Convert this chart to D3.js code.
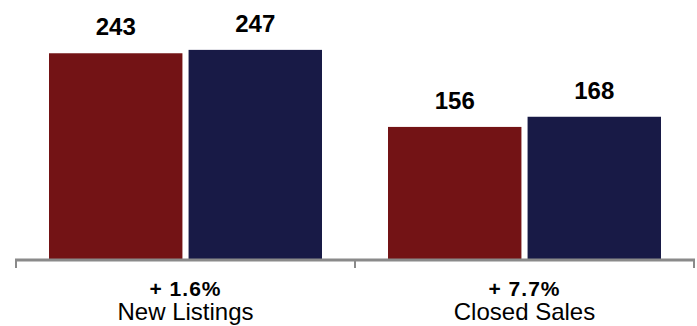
<!DOCTYPE html>
<html>
<head>
<meta charset="utf-8">
<script src="https://cdn.jsdelivr.net/npm/d3@7"></script>
<style>
  body { margin: 0; background: #fff; }
  svg { display: block; font-family: "Liberation Sans", Arial, Helvetica, sans-serif; }
</style>
</head>
<body>
<svg id="chart" width="697" height="326"></svg>
<script>
// data
var categories = ["New Listings", "Closed Sales"];
var changes = ["+ 1.6%", "+ 7.7%"];
var priorYear = [243, 156];
var currentYear = [247, 168];
var seriesColors = ["#731315", "#181a46"];

var svg = d3.select("#chart");

var axisY = 260;

var x0 = d3.scaleBand()
  .domain(categories)
  .range([16, 694])
  .padding(0);

var x1 = d3.scaleBand()
  .domain([0, 1])
  .range([33, x0.bandwidth() - 33])
  .paddingInner(0.044);

var y = d3.scaleLinear()
  .domain([0, 300])
  .range([259, 5]);

var groups = svg.selectAll("g.group")
  .data(categories)
  .enter()
  .append("g")
  .attr("class", "group")
  .attr("transform", function(d){ return "translate(" + x0(d) + ",0)"; });

groups.each(function(cat, i){
  var g = d3.select(this);
  var vals = [priorYear[i], currentYear[i]];

  g.selectAll("rect")
    .data(vals)
    .enter()
    .append("rect")
    .attr("x", function(d, j){ return x1(j); })
    .attr("y", function(d){ return y(d); })
    .attr("width", x1.bandwidth())
    .attr("height", function(d){ return y(0) - y(d); })
    .attr("fill", function(d, j){ return seriesColors[j]; });

  g.selectAll("text.val")
    .data(vals)
    .enter()
    .append("text")
    .attr("class", "val")
    .attr("x", function(d, j){ return x1(j) + x1.bandwidth() / 2; })
    .attr("y", function(d){ return y(d) - 18; })
    .attr("text-anchor", "middle")
    .attr("font-size", 24)
    .attr("font-weight", "bold")
    .attr("fill", "#000")
    .text(function(d){ return d; });

  var cx = x0.bandwidth() / 2;
  g.append("text")
    .attr("x", cx)
    .attr("y", 296)
    .attr("text-anchor", "middle")
    .attr("font-size", 21)
    .attr("font-weight", "bold")
    .attr("letter-spacing", 1)
    .attr("xml:space", "preserve")
    .text(changes[i]);

  g.append("text")
    .attr("x", cx)
    .attr("y", 320)
    .attr("text-anchor", "middle")
    .attr("font-size", 24)
    .text(cat);
});

// axis line with ticks at the group boundaries
var axisColor = "#8a8a8a";
svg.append("line")
  .attr("x1", x0.range()[0] - 1)
  .attr("x2", x0.range()[1] + 1)
  .attr("y1", axisY)
  .attr("y2", axisY)
  .attr("stroke", axisColor)
  .attr("stroke-width", 3);

var tickXs = categories.map(function(c){ return x0(c); }).concat([x0.range()[1]]);
svg.selectAll("line.tick")
  .data(tickXs)
  .enter()
  .append("line")
  .attr("class", "tick")
  .attr("x1", function(d){ return d; })
  .attr("x2", function(d){ return d; })
  .attr("y1", axisY)
  .attr("y2", 268)
  .attr("stroke", axisColor)
  .attr("stroke-width", 2);
</script>
</body>
</html>
